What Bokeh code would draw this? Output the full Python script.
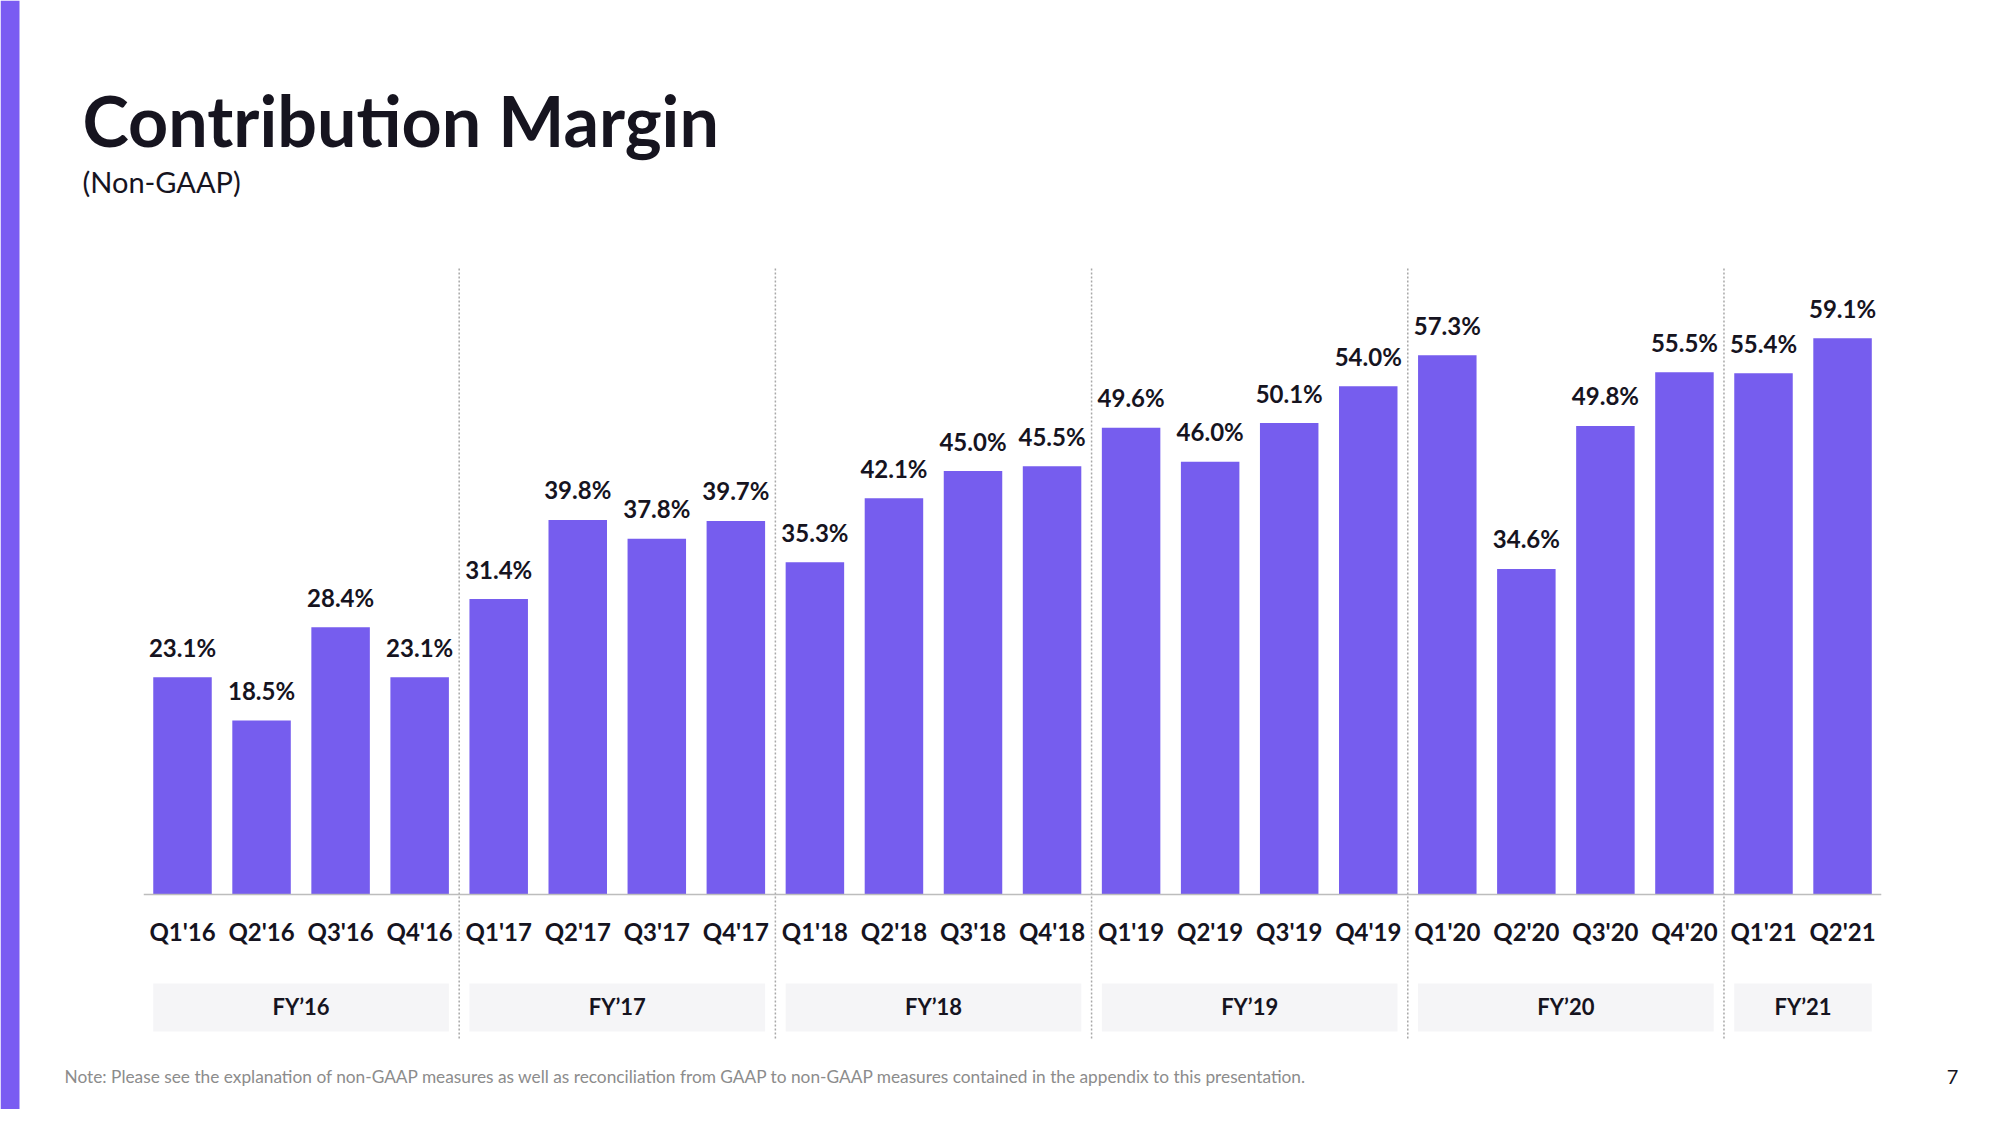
from bokeh.plotting import figure
from bokeh.models import Range1d, Label, BoxAnnotation, ColumnDataSource
from bokeh.core.properties import value
from bokeh.embed import file_html
from bokeh.resources import INLINE

# ---------------- data ----------------
quarters = ["Q1'16", "Q2'16", "Q3'16", "Q4'16",
            "Q1'17", "Q2'17", "Q3'17", "Q4'17",
            "Q1'18", "Q2'18", "Q3'18", "Q4'18",
            "Q1'19", "Q2'19", "Q3'19", "Q4'19",
            "Q1'20", "Q2'20", "Q3'20", "Q4'20",
            "Q1'21", "Q2'21"]
margins = [23.1, 18.5, 28.4, 23.1,
           31.4, 39.8, 37.8, 39.7,
           35.3, 42.1, 45.0, 45.5,
           49.6, 46.0, 50.1, 54.0,
           57.3, 34.6, 49.8, 55.5,
           55.4, 59.1]
fiscal_years = ["FY\u201916", "FY\u201917", "FY\u201918", "FY\u201919", "FY\u201920", "FY\u201921"]
quarters_per_year = [4, 4, 4, 4, 4, 2]
title_text = "Contribution Margin"
subtitle_text = "(Non-GAAP)"
note_text = ("Note:  Please see the explanation of non-GAAP measures as well as reconciliation "
             "from GAAP to non-GAAP measures contained in the appendix to this presentation.")
page_number = "7"

# ---------------- layout / style ----------------
W, H = 1984, 1109
PX_X = 79.05      # px per category
PX_Y = 9.41       # px per percentage point
X0 = 182          # canvas x of first category centre
Y0 = 894          # canvas y of the baseline
BAR_W = 0.74
PURPLE = "#765DEE"
DARK = "#16141F"
FONT = "Lato"

def ydat(px_below_baseline):
    return -px_below_baseline / PX_Y

p = figure(width=W, height=H, output_backend="svg", toolbar_location=None,
           x_range=Range1d(-X0 / PX_X, (W - X0) / PX_X),
           y_range=Range1d(-(H - Y0) / PX_Y, Y0 / PX_Y),
           x_axis_type=None, y_axis_type=None, min_border=0,
           outline_line_color=None, background_fill_color="white",
           border_fill_color="white")
p.grid.visible = False

xs = list(range(len(quarters)))
src = ColumnDataSource(dict(x=xs, m=margins, q=quarters,
                            lab=[f"{v:.1f}%" for v in margins]))

# left accent stripe
p.add_layout(BoxAnnotation(left=0, right=19, left_units="screen", right_units="screen",
                           fill_color="#7A5CF2", fill_alpha=1, line_color=None))

# FY boxes
starts, ends = [], []
i = 0
for n in quarters_per_year:
    starts.append(i)
    ends.append(i + n - 1)
    i += n
p.quad(left=[s - BAR_W / 2 for s in starts], right=[e + BAR_W / 2 for e in ends],
       top=ydat(89), bottom=ydat(137), fill_color="#F5F5F7", line_color=None)
p.text(x=[(s + e) / 2 for s, e in zip(starts, ends)], y=ydat(112), text=fiscal_years,
       text_align="center", text_baseline="middle", text_font=value(FONT),
       text_font_style="bold", text_font_size="22px", text_color=DARK)

# dotted separators between fiscal years
seps = [e + 0.5 for e in ends[:-1]]
p.segment(x0=seps, x1=seps, y0=(Y0 - 268) / PX_Y, y1=ydat(146),
          line_color="#A8A8A8", line_width=1.5, line_dash="2 2")

# bars
p.vbar(x="x", top="m", width=BAR_W, source=src, fill_color=PURPLE, line_color=None)

# baseline
p.segment(x0=[-0.49], x1=[len(quarters) - 1 + 0.49], y0=[0], y1=[0],
          line_color="#BDBDBD", line_width=1.5)

# value labels
p.text(x="x", y="m", text="lab", source=src, y_offset=-30,
       text_align="center", text_baseline="alphabetic", text_font=value(FONT),
       text_font_style="bold", text_font_size="24px", text_color=DARK)

# quarter labels
p.text(x="x", y=ydat(37), text="q", source=src,
       text_align="center", text_baseline="middle", text_font=value(FONT),
       text_font_style="bold", text_font_size="24px", text_color=DARK)

# title etc.
p.add_layout(Label(x=82, y=H - 119, x_units="screen", y_units="screen", text=title_text,
                   text_font=FONT, text_font_style="bold", text_font_size="70px",
                   text_color=DARK, text_baseline="alphabetic"))
p.add_layout(Label(x=82, y=H - 181, x_units="screen", y_units="screen", text=subtitle_text,
                   text_font=FONT, text_font_size="29px", text_color=DARK,
                   text_baseline="alphabetic"))
p.add_layout(Label(x=64, y=H - 1076, x_units="screen", y_units="screen", text=note_text,
                   text_font=FONT, text_font_size="17.3px", text_color="#8C8C8C",
                   text_baseline="alphabetic"))
p.add_layout(Label(x=1952, y=H - 1076, x_units="screen", y_units="screen", text=page_number,
                   text_font=FONT, text_font_size="20px", text_color=DARK,
                   text_align="center", text_baseline="alphabetic"))

open("out.html", "w").write(file_html(p, INLINE))
